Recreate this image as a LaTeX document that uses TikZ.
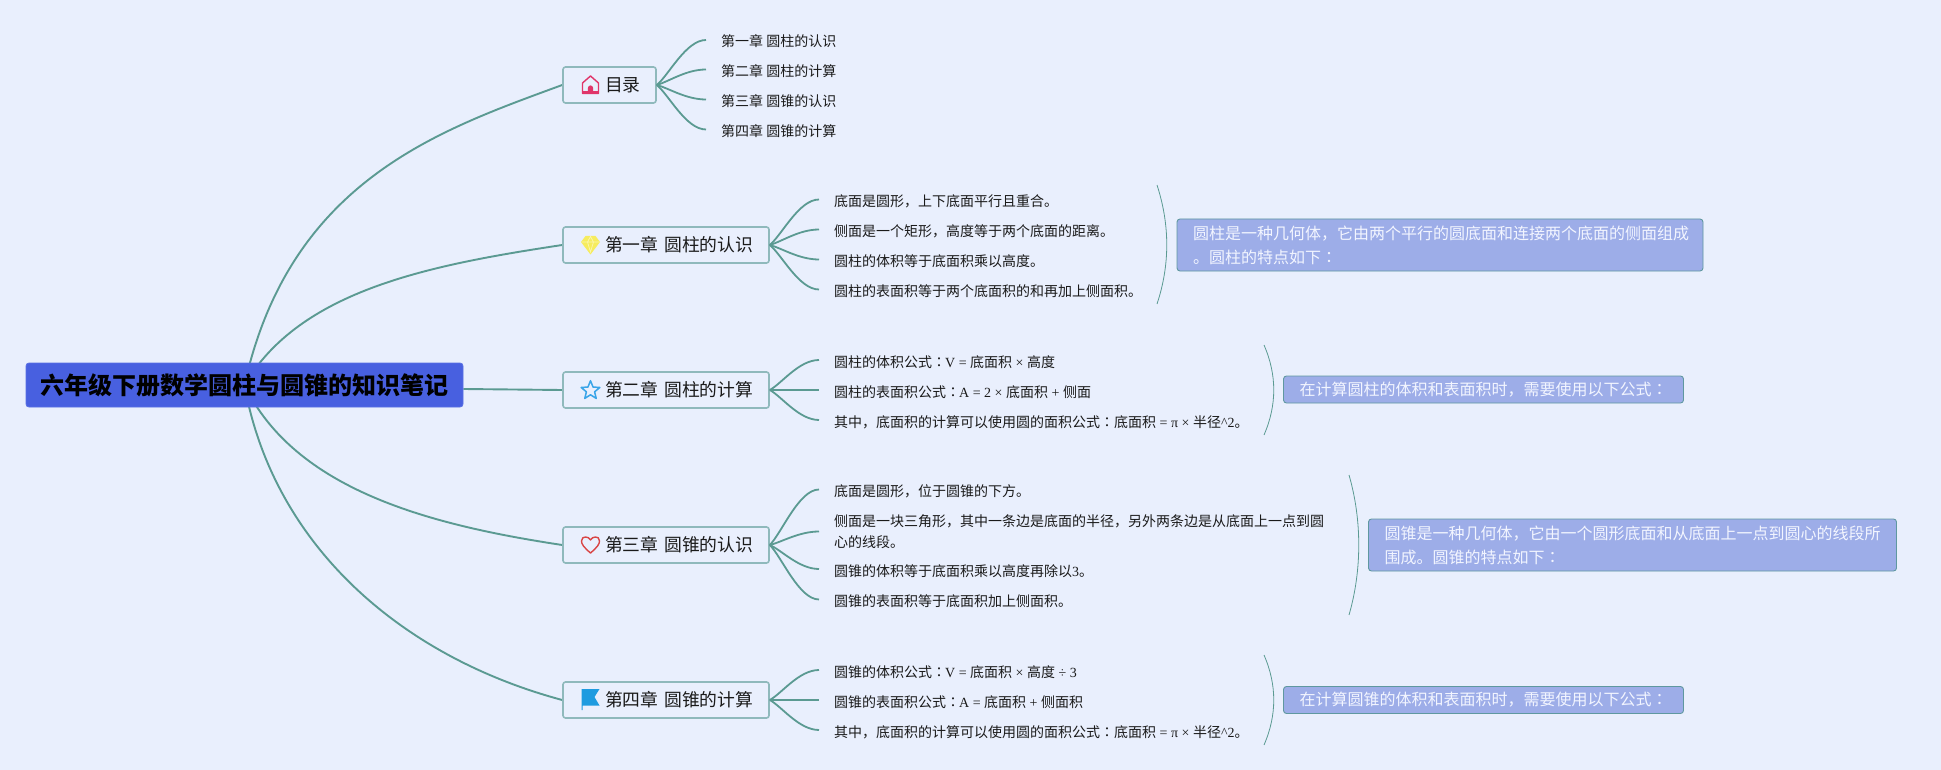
\documentclass[tikz,border=0pt]{standalone}
\usepackage{fontspec}
\usetikzlibrary{calc}
\setmainfont{Noto Sans CJK SC}
\newfontfamily\latf{Liberation Serif}
\newfontfamily\tcf{Noto Sans CJK TC}
\newcommand{\lat}[1]{{\latf #1}}
\newcommand{\cln}{{\tcf ：}}
\definecolor{pagebg}{HTML}{E9EFFD}
\definecolor{conn}{HTML}{5B9A92}
\definecolor{rootfill}{HTML}{4860E0}
\definecolor{boxline}{HTML}{8FB9BC}
\definecolor{sumfill}{HTML}{9DADE8}
\definecolor{sumline}{HTML}{5F98A0}
\definecolor{sumtext}{HTML}{F2F5FF}
\definecolor{inkc}{HTML}{1A1A1A}
\definecolor{icohome}{HTML}{E0356A}
\definecolor{icodia}{HTML}{F6EC5E}
\definecolor{icodial}{HTML}{FBF6B0}
\definecolor{icostar}{HTML}{3AA5E8}
\definecolor{icoheart}{HTML}{D94545}
\definecolor{icoflag}{HTML}{1E9BE0}
\pgfdeclarelayer{bglayer}
\pgfdeclarelayer{conlayer}
\pgfsetlayers{bglayer,conlayer,main}
\tikzset{
  rootbox/.style={draw=rootfill!90!white,fill=rootfill,rounded corners=3pt,line width=.8pt,
    minimum width=437pt,minimum height=44pt,inner sep=0pt,
    font=\fontsize{24}{28}\selectfont\bfseries,text=black},
  branchbox/.style={draw=boxline,fill=pagebg,rounded corners=2.5pt,line width=1.6pt,
    minimum height=36pt,inner xsep=8pt,inner ysep=0pt,align=left,
    font=\fontsize{17.8}{22}\selectfont,text=inkc},
  leaftext/.style={anchor=west,inner xsep=15pt,inner ysep=0pt,text height=18pt,text depth=4pt,
    font=\fontsize{14}{21}\selectfont,text=inkc},
  leafwrap/.style={anchor=west,inner xsep=15pt,inner ysep=0pt,align=left,
    font=\fontsize{14}{21}\selectfont,text=inkc},
  sumbox/.style={draw=sumline,fill=sumfill,rounded corners=3pt,line width=.9pt,
    inner xsep=16pt,inner ysep=0pt,align=left,
    font=\fontsize{16}{24}\selectfont,text=sumtext},
  mainline/.style={draw=conn,line width=1.9pt},
  leafline/.style={draw=conn,line width=1.8pt},
  braceline/.style={draw=conn,line width=.8pt},
}
\newcommand{\lnk}[2]{\draw[leafline] (#1.east) .. controls ($(#1.east)!.22!(#1.east|-#2.west)+(12,0)$) and +(-20,0) .. (#2.west);}
\newcommand{\btx}[1]{\hspace*{34pt}\raisebox{-1.6pt}{#1}}
\begin{document}
\begin{tikzpicture}[x=1pt,y=-1pt]
\begin{pgfonlayer}{bglayer}
\useasboundingbox[fill=pagebg] (0,0) rectangle (1941,770);
\end{pgfonlayer}

\node[rootbox] (root) at (244.5,385) {六年级下册数学圆柱与圆锥的知识笔记};

\node[branchbox,text width=77pt] (b0) at (609.5,85) {\btx{目录}};
\node[branchbox,text width=190pt] (b1) at (666,245) {\btx{第一章 圆柱的认识}};
\node[branchbox,text width=190pt] (b2) at (666,390) {\btx{第二章 圆柱的计算}};
\node[branchbox,text width=190pt] (b3) at (666,545) {\btx{第三章 圆锥的认识}};
\node[branchbox,text width=190pt] (b4) at (666,700) {\btx{第四章 圆锥的计算}};

% 目录
\node[leaftext,xshift=1pt] (t1) at (705,40) {第一章 圆柱的认识};
\node[leaftext,xshift=1pt] (t2) at (705,69.5) {第二章 圆柱的计算};
\node[leaftext,xshift=1pt] (t3) at (705,99.5) {第三章 圆锥的认识};
\node[leaftext,xshift=1pt] (t4) at (705,129.5) {第四章 圆锥的计算};
% 第一章
\node[leaftext] (a1) at (819,199.5) {底面是圆形，上下底面平行且重合。};
\node[leaftext] (a2) at (819,229.5) {侧面是一个矩形，高度等于两个底面的距离。};
\node[leaftext] (a3) at (819,259.5) {圆柱的体积等于底面积乘以高度。};
\node[leaftext] (a4) at (819,289.5) {圆柱的表面积等于两个底面积的和再加上侧面积。};
% 第二章
\node[leaftext] (c1) at (819,360) {圆柱的体积公式\cln\hspace{-1pt}\lat{V = }底面积\lat{ × }高度};
\node[leaftext] (c2) at (819,390) {圆柱的表面积公式\cln\hspace{-1pt}\lat{A = 2 × }底面积\lat{ + }侧面};
\node[leaftext] (c3) at (819,420) {其中，底面积的计算可以使用圆的面积公式\cln 底面积\lat{ = π × }半径\lat{\^{}2}。};
% 第三章
\node[leaftext] (d1) at (819,489.5) {底面是圆形，位于圆锥的下方。};
\node[leafwrap] (d2) at (819,531.5) {侧面是一块三角形，其中一条边是底面的半径，另外两条边是从底面上一点到圆\\心的线段。};
\node[leaftext] (d3) at (819,569) {圆锥的体积等于底面积乘以高度再除以\lat{3}。};
\node[leaftext] (d4) at (819,599.5) {圆锥的表面积等于底面积加上侧面积。};
% 第四章
\node[leaftext] (e1) at (819,670) {圆锥的体积公式\cln\hspace{-1pt}\lat{V = }底面积\lat{ × }高度\lat{ ÷ 3}};
\node[leaftext] (e2) at (819,700) {圆锥的表面积公式\cln\hspace{-1pt}\lat{A = }底面积\lat{ + }侧面积};
\node[leaftext] (e3) at (819,730) {其中，底面积的计算可以使用圆的面积公式\cln 底面积\lat{ = π × }半径\lat{\^{}2}。};

% summaries
\node[sumbox,text width=494pt,minimum height=52pt] (s1) at (1440,245) {圆柱是一种几何体，它由两个平行的圆底面和连接两个底面的侧面组成\\。圆柱的特点如下\cln};
\node[sumbox,text width=368pt,minimum height=27pt] (s2) at (1483.5,389.5) {在计算圆柱的体积和表面积时，需要使用以下公式\cln};
\node[sumbox,text width=496pt,minimum height=52pt] (s3) at (1632.5,545) {圆锥是一种几何体，它由一个圆形底面和从底面上一点到圆心的线段所\\围成。圆锥的特点如下\cln};
\node[sumbox,text width=368pt,minimum height=27pt] (s4) at (1483.5,700) {在计算圆锥的体积和表面积时，需要使用以下公式\cln};

% brace end points
\coordinate (br1a) at (1157,185);
\coordinate (br1b) at (1157,304);
\coordinate (br2a) at (1264,345);
\coordinate (br2b) at (1264,435);
\coordinate (br3a) at (1349,475);
\coordinate (br3b) at (1349,615);
\coordinate (br4a) at (1264,655);
\coordinate (br4b) at (1264,745);

\begin{pgfonlayer}{conlayer}
\draw[mainline] (root.center) .. controls (290,180) and (440,130) .. (b0.west);
\draw[mainline] (root.center) .. controls (300,290) and (430,265) .. (b1.west);
\draw[mainline] ($(root.east)+(0,4)$) -- (b2.west);
\draw[mainline] (root.center) .. controls (295,490) and (430,525) .. (b3.west);
\draw[mainline] (root.center) .. controls (272,540) and (395,655) .. (b4.west);
\end{pgfonlayer}

\foreach \x in {t1,t2,t3,t4} {\lnk{b0}{\x}}
\foreach \x in {a1,a2,a3,a4} {\lnk{b1}{\x}}
\foreach \x in {c1,c2,c3} {\lnk{b2}{\x}}
\foreach \x in {d1,d2,d3,d4} {\lnk{b3}{\x}}
\foreach \x in {e1,e2,e3} {\lnk{b4}{\x}}

\draw[braceline] (br1a) .. controls (1170,225) and (1170,265) .. (br1b);
\draw[braceline] (br2a) .. controls (1277,375) and (1277,405) .. (br2b);
\draw[braceline] (br3a) .. controls (1362,520) and (1362,570) .. (br3b);
\draw[braceline] (br4a) .. controls (1277,685) and (1277,715) .. (br4b);

% icons
\begin{scope}[shift={(590.5,85)}]
  \draw[icohome,line width=1.4pt,line join=round,fill=pagebg] (0,-9) -- (-8,-2) -- (-8,8.5) -- (8,8.5) -- (8,-2) -- cycle;
  \fill[icohome] (-8.7,6.5) rectangle (8.7,9.3);
  \fill[icohome] (-2.6,8) -- (-2.6,3) arc[start angle=180,end angle=360,radius=2.6] -- (2.6,8) -- cycle;
\end{scope}
\begin{scope}[shift={(590.5,245)}]
  \fill[icodia] (-5,-9) -- (5,-9) -- (9.5,-3) -- (0,9.5) -- (-9.5,-3) -- cycle;
  \draw[icodial,line width=.7pt] (-9,-3) -- (9,-3) (-3,-3) -- (0,7) -- (3,-3) (-3,-3) -- (0,-8.5) -- (3,-3);
\end{scope}
\begin{scope}[shift={(590.5,390.5)}]
  \draw[icostar,line width=1.5pt,line join=round,fill=pagebg]
    (-90:9.8) -- (-54:4.3) -- (-18:9.8) -- (18:4.3) -- (54:9.8) -- (90:4.3) -- (126:9.8) -- (162:4.3) -- (198:9.8) -- (234:4.3) -- cycle;
\end{scope}
\begin{scope}[shift={(590.5,545)}]
  \draw[icoheart,line width=1.4pt,line join=round]
    (0,8) .. controls (-7,2) and (-9,-1) .. (-9,-4) .. controls (-9,-7) and (-7,-8) .. (-5,-8)
    .. controls (-3,-8) and (-1,-7) .. (0,-5) .. controls (1,-7) and (3,-8) .. (5,-8)
    .. controls (7,-8) and (9,-7) .. (9,-4) .. controls (9,-1) and (7,2) .. cycle;
\end{scope}
\begin{scope}[shift={(590.5,699.5)}]
  \fill[icoflag] (-9,-10.5) -- (9,-10.5) -- (4,-2.5) -- (9,6) -- (-8,6) -- (-8,10.5) -- (-9,10.5) -- cycle;
\end{scope}
\end{tikzpicture}
\end{document}
